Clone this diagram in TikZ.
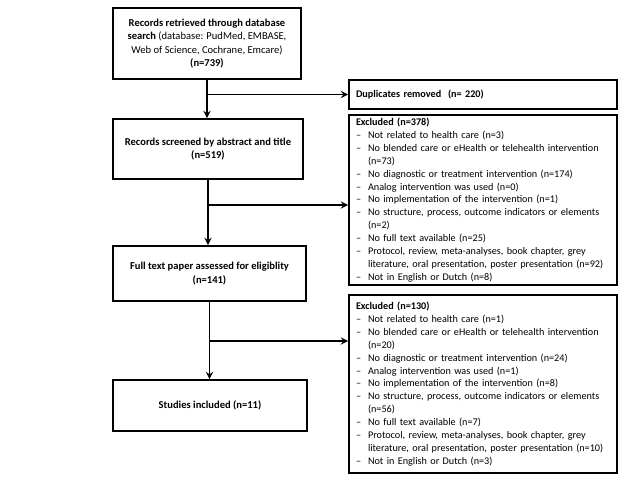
\documentclass[tikz,border=0pt]{standalone}
\usepackage{fontspec}
\setmainfont{Carlito}
\usepackage{tikz}

\newcommand{\exitem}[1]{\par\noindent\hangindent=0.3cm\hangafter=1\makebox[0.3cm][l]{--}#1}

\begin{document}
\begin{tikzpicture}[line width=1.3pt,
    mainbox/.style={draw,rectangle,align=center,font=\fontsize{7.5}{9.6}\selectfont\bfseries,inner sep=2pt},
    exbox/.style={draw,rectangle,text width=6.35cm,inner xsep=0.175cm,inner ysep=2pt,font=\fontsize{7.25}{9.14}\selectfont},
    >=stealth]
    \useasboundingbox (0,0) rectangle (16,-12);

    \node[mainbox,minimum width=4.7cm,minimum height=1.775cm] (rec) at (5.175,-1.0875)
        {Records retrieved through database\\search \textmd{(database: PudMed, EMBASE,}\\
         \textmd{Web of Science, Cochrane, Emcare)}\\(n=739)};
    \node[mainbox,minimum width=4.75cm,minimum height=1.5cm] (scr) at (5.2,-3.725)
        {Records screened by abstract and title\\(n=519)};
    \node[mainbox,minimum width=4.825cm,minimum height=1.375cm] (full) at (5.2375,-6.8375)
        {Full text paper assessed for eligiblity\\(n=141)};
    \node[mainbox,minimum width=4.85cm,minimum height=1.275cm] (inc) at (5.25,-10.1375)
        {Studies included (n=11)};

    \node[exbox,minimum height=0.725cm] (dup) at (12.075,-2.3625)
        {\textbf{Duplicates removed\ \ (n= 220)}};
    \node[exbox,minimum height=4.25cm] (ex1) at (12.075,-5.0)
        {\textbf{Excluded (n=378)}
         \exitem{Not related to health care (n=3)}
         \exitem{No blended care or eHealth or telehealth intervention\newline(n=73)}
         \exitem{No diagnostic or treatment intervention (n=174)}
         \exitem{Analog intervention was used (n=0)}
         \exitem{No implementation of the intervention (n=1)}
         \exitem{No structure, process, outcome indicators or elements\newline(n=2)}
         \exitem{No full text available (n=25)}
         \exitem{Protocol, review, meta-analyses, book chapter, grey\newline literature, oral presentation, poster presentation (n=92)}
         \exitem{Not in English or Dutch (n=8)}};
    \node[exbox,minimum height=4.45cm] (ex2) at (12.075,-9.6)
        {\textbf{Excluded (n=130)}
         \exitem{Not related to health care (n=1)}
         \exitem{No blended care or eHealth or telehealth intervention\newline(n=20)}
         \exitem{No diagnostic or treatment intervention (n=24)}
         \exitem{Analog intervention was used (n=1)}
         \exitem{No implementation of the intervention (n=8)}
         \exitem{No structure, process, outcome indicators or elements\newline(n=56)}
         \exitem{No full text available (n=7)}
         \exitem{Protocol, review, meta-analyses, book chapter, grey\newline literature, oral presentation, poster presentation (n=10)}
         \exitem{Not in English or Dutch (n=3)}};

    % branch points
    \coordinate (b1) at (5.175,-2.3625);
    \coordinate (b2) at (5.225,-5.125);
    \coordinate (b3) at (5.25,-8.525);

    \draw[->] (rec) -- (rec |- scr.north);
    \draw[->] (scr) -- (scr |- full.north);
    \draw[->] (full) -- (full |- inc.north);
    \draw[->] (b1) -- (dup.west);
    \draw[->] (b2) -- (b2 -| ex1.west);
    \draw[->] (b3) -- (b3 -| ex2.west);
\end{tikzpicture}
\end{document}
